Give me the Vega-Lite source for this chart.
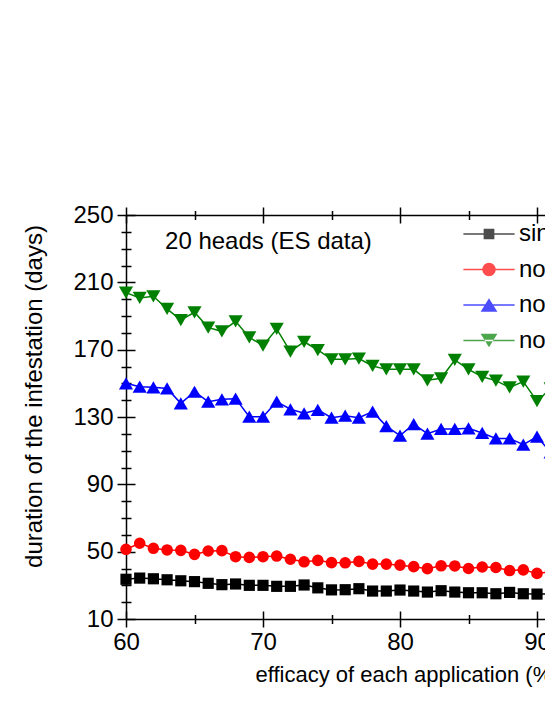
{
  "$schema": "https://vega.github.io/schema/vega-lite/v6.json",
  "usermeta": {"embedOptions": {"actions": false}},
  "autosize": "none",
  "padding": {"left": 126, "top": 215, "right": 0, "bottom": 86},
  "width": 548,
  "height": 404,
  "background": "white",
  "config": {
    "view": {"stroke": null},
    "font": "Liberation Sans",
    "axis": {
      "domainColor": "black", "domainWidth": 1.5,
      "tickColor": "black", "tickWidth": 1.5,
      "gridColor": "black", "gridWidth": 1.5, "gridOpacity": 1,
      "labelColor": "black", "labelFont": "Liberation Sans", "labelFontSize": 24,
      "titleColor": "black", "titleFont": "Liberation Sans", "titleFontSize": 22, "titleFontWeight": "normal",
      "labelFlush": false, "labelOverlap": false
    }
  },
  "data": {"values": [
    {"s":"single application","x":60,"y":33.6},{"s":"single application","x":61,"y":34.3},{"s":"single application","x":62,"y":33.9},{"s":"single application","x":63,"y":33.3},{"s":"single application","x":64,"y":32.7},{"s":"single application","x":65,"y":32.2},{"s":"single application","x":66,"y":31.2},{"s":"single application","x":67,"y":30.4},{"s":"single application","x":68,"y":30.8},{"s":"single application","x":69,"y":30.0},{"s":"single application","x":70,"y":30.0},{"s":"single application","x":71,"y":29.4},{"s":"single application","x":72,"y":29.4},{"s":"single application","x":73,"y":30.2},{"s":"single application","x":74,"y":28.5},{"s":"single application","x":75,"y":27.3},{"s":"single application","x":76,"y":27.4},{"s":"single application","x":77,"y":28.0},{"s":"single application","x":78,"y":26.6},{"s":"single application","x":79,"y":26.6},{"s":"single application","x":80,"y":27.2},{"s":"single application","x":81,"y":26.6},{"s":"single application","x":82,"y":26.0},{"s":"single application","x":83,"y":26.8},{"s":"single application","x":84,"y":26.0},{"s":"single application","x":85,"y":25.6},{"s":"single application","x":86,"y":25.6},{"s":"single application","x":87,"y":25.0},{"s":"single application","x":88,"y":25.8},{"s":"single application","x":89,"y":25.0},{"s":"single application","x":90,"y":24.8},{"s":"single application","x":91,"y":24.8},
    {"s":"no ovicidal effect","x":60,"y":51.4},{"s":"no ovicidal effect","x":61,"y":55.0},{"s":"no ovicidal effect","x":62,"y":52.0},{"s":"no ovicidal effect","x":63,"y":51.0},{"s":"no ovicidal effect","x":64,"y":50.8},{"s":"no ovicidal effect","x":65,"y":48.4},{"s":"no ovicidal effect","x":66,"y":50.4},{"s":"no ovicidal effect","x":67,"y":50.6},{"s":"no ovicidal effect","x":68,"y":47.0},{"s":"no ovicidal effect","x":69,"y":46.6},{"s":"no ovicidal effect","x":70,"y":47.0},{"s":"no ovicidal effect","x":71,"y":47.4},{"s":"no ovicidal effect","x":72,"y":45.5},{"s":"no ovicidal effect","x":73,"y":44.0},{"s":"no ovicidal effect","x":74,"y":44.8},{"s":"no ovicidal effect","x":75,"y":43.5},{"s":"no ovicidal effect","x":76,"y":43.4},{"s":"no ovicidal effect","x":77,"y":44.2},{"s":"no ovicidal effect","x":78,"y":42.6},{"s":"no ovicidal effect","x":79,"y":42.6},{"s":"no ovicidal effect","x":80,"y":42.0},{"s":"no ovicidal effect","x":81,"y":41.1},{"s":"no ovicidal effect","x":82,"y":39.9},{"s":"no ovicidal effect","x":83,"y":41.6},{"s":"no ovicidal effect","x":84,"y":41.5},{"s":"no ovicidal effect","x":85,"y":40.0},{"s":"no ovicidal effect","x":86,"y":40.9},{"s":"no ovicidal effect","x":87,"y":40.6},{"s":"no ovicidal effect","x":88,"y":38.8},{"s":"no ovicidal effect","x":89,"y":39.2},{"s":"no ovicidal effect","x":90,"y":37.1},{"s":"no ovicidal effect","x":91,"y":38.0},
    {"s":"no resistance","x":60,"y":150.0},{"s":"no resistance","x":61,"y":148.0},{"s":"no resistance","x":62,"y":147.6},{"s":"no resistance","x":63,"y":147.0},{"s":"no resistance","x":64,"y":138.1},{"s":"no resistance","x":65,"y":145.0},{"s":"no resistance","x":66,"y":139.1},{"s":"no resistance","x":67,"y":140.5},{"s":"no resistance","x":68,"y":140.9},{"s":"no resistance","x":69,"y":130.2},{"s":"no resistance","x":70,"y":130.2},{"s":"no resistance","x":71,"y":139.1},{"s":"no resistance","x":72,"y":134.6},{"s":"no resistance","x":73,"y":132.2},{"s":"no resistance","x":74,"y":134.3},{"s":"no resistance","x":75,"y":129.6},{"s":"no resistance","x":76,"y":130.8},{"s":"no resistance","x":77,"y":129.6},{"s":"no resistance","x":78,"y":133.2},{"s":"no resistance","x":79,"y":124.6},{"s":"no resistance","x":80,"y":119.0},{"s":"no resistance","x":81,"y":125.8},{"s":"no resistance","x":82,"y":120.1},{"s":"no resistance","x":83,"y":122.9},{"s":"no resistance","x":84,"y":122.9},{"s":"no resistance","x":85,"y":123.3},{"s":"no resistance","x":86,"y":120.5},{"s":"no resistance","x":87,"y":117.3},{"s":"no resistance","x":88,"y":117.3},{"s":"no resistance","x":89,"y":113.6},{"s":"no resistance","x":90,"y":118.3},{"s":"no resistance","x":91,"y":109.0},
    {"s":"no reinfestation","x":60,"y":203.9},{"s":"no reinfestation","x":61,"y":200.7},{"s":"no reinfestation","x":62,"y":201.7},{"s":"no reinfestation","x":63,"y":194.2},{"s":"no reinfestation","x":64,"y":187.6},{"s":"no reinfestation","x":65,"y":192.2},{"s":"no reinfestation","x":66,"y":183.1},{"s":"no reinfestation","x":67,"y":180.9},{"s":"no reinfestation","x":68,"y":186.8},{"s":"no reinfestation","x":69,"y":177.3},{"s":"no reinfestation","x":70,"y":172.4},{"s":"no reinfestation","x":71,"y":182.3},{"s":"no reinfestation","x":72,"y":168.8},{"s":"no reinfestation","x":73,"y":174.7},{"s":"no reinfestation","x":74,"y":169.8},{"s":"no reinfestation","x":75,"y":164.3},{"s":"no reinfestation","x":76,"y":164.3},{"s":"no reinfestation","x":77,"y":164.7},{"s":"no reinfestation","x":78,"y":160.3},{"s":"no reinfestation","x":79,"y":158.3},{"s":"no reinfestation","x":80,"y":158.3},{"s":"no reinfestation","x":81,"y":158.3},{"s":"no reinfestation","x":82,"y":151.8},{"s":"no reinfestation","x":83,"y":153.0},{"s":"no reinfestation","x":84,"y":163.9},{"s":"no reinfestation","x":85,"y":158.3},{"s":"no reinfestation","x":86,"y":153.9},{"s":"no reinfestation","x":87,"y":151.6},{"s":"no reinfestation","x":88,"y":147.6},{"s":"no reinfestation","x":89,"y":151.0},{"s":"no reinfestation","x":90,"y":139.4},{"s":"no reinfestation","x":91,"y":147.0}
  ]},
  "layer": [
    {
      "mark": {"type": "line", "strokeWidth": 1.5},
      "encoding": {
        "x": {"field": "x", "type": "quantitative", "scale": {"domain": [60, 100], "nice": false, "zero": false},
          "axis": {
            "orient": "bottom",
            "values": [60, 65, 70, 75, 80, 85, 90, 95, 100],
            "labelExpr": "datum.value % 10 === 0 ? datum.label : ''",
            "tickSize": {"condition": {"test": "datum.value % 10 === 0", "value": 8}, "value": 4.5},
            "grid": true,
            "gridDash": {"condition": {"test": "datum.value % 10 === 0", "value": [8, 2000]}, "value": [4.5, 2000]},
            "labelPadding": 3,
            "title": "efficacy of each application (%)",
            "titlePadding": 10,
            "titleX": 281
          }},
        "y": {"field": "y", "type": "quantitative", "scale": {"domain": [10, 250], "nice": false, "zero": false},
          "axis": {
            "orient": "left",
            "values": [10,20,30,40,50,60,70,80,90,100,110,120,130,140,150,160,170,180,190,200,210,220,230,240,250],
            "labelExpr": "(datum.value - 10) % 40 === 0 ? datum.label : ''",
            "tickSize": {"condition": {"test": "(datum.value - 10) % 40 === 0", "value": 9}, "value": 5},
            "grid": true,
            "gridDash": {"condition": {"test": "(datum.value - 10) % 40 === 0", "value": [9, 2000]}, "value": [5, 2000]},
            "labelPadding": 4,
            "title": "duration of the infestation (days)",
            "titleFontSize": 24,
            "titlePadding": 26,
            "titleY": 181
          }},
        "color": {"field": "s", "type": "nominal",
          "scale": {"domain": ["single application", "no ovicidal effect", "no resistance", "no reinfestation"], "range": ["#000000", "#FF0000", "#0000FF", "#008000"]},
          "legend": null}
      }
    },
    {
      "transform": [{"filter": "datum.s === 'single application'"}],
      "mark": {"type": "point", "filled": true, "opacity": 1, "shape": "square", "size": 125, "color": "#000000"},
      "encoding": {
        "x": {"field": "x", "type": "quantitative",
          "axis": {
            "orient": "top",
            "values": [60, 65, 70, 75, 80, 85, 90, 95, 100],
            "labels": false,
            "tickSize": {"condition": {"test": "datum.value % 10 === 0", "value": 8}, "value": 4.5},
            "grid": true,
            "gridDash": {"condition": {"test": "datum.value % 10 === 0", "value": [8, 2000]}, "value": [4.5, 2000]},
            "title": null
          }},
        "y": {"field": "y", "type": "quantitative", "axis": null}
      }
    },
    {
      "transform": [{"filter": "datum.s === 'no ovicidal effect'"}],
      "mark": {"type": "point", "filled": true, "opacity": 1, "shape": "circle", "size": 135, "color": "#FF0000"},
      "encoding": {
        "x": {"field": "x", "type": "quantitative", "axis": null},
        "y": {"field": "y", "type": "quantitative", "axis": null}
      }
    },
    {
      "transform": [{"filter": "datum.s === 'no resistance'"}],
      "mark": {"type": "point", "filled": true, "opacity": 1, "shape": "triangle-up", "size": 200, "color": "#0000FF"},
      "encoding": {
        "x": {"field": "x", "type": "quantitative", "axis": null},
        "y": {"field": "y", "type": "quantitative", "axis": null}
      }
    },
    {
      "transform": [{"filter": "datum.s === 'no reinfestation'"}],
      "mark": {"type": "point", "filled": true, "opacity": 1, "shape": "triangle-down", "size": 200, "color": "#008000"},
      "encoding": {
        "x": {"field": "x", "type": "quantitative", "axis": null},
        "y": {"field": "y", "type": "quantitative", "axis": null}
      }
    },
    {
      "mark": {"type": "point", "filled": true, "size": 0},
      "encoding": {
        "x": {"field": "x", "type": "quantitative", "axis": null},
        "y": {"field": "y", "type": "quantitative", "axis": null},
        "color": {"field": "s", "type": "nominal",
          "scale": {"domain": ["single application", "no ovicidal effect", "no resistance", "no reinfestation"], "range": ["#000000", "#FF0000", "#0000FF", "#008000"]},
          "legend": {"orient": "none", "legendX": 351, "legendY": 7, "title": null, "symbolSize": 256, "labelFontSize": 24, "labelFont": "Liberation Sans", "labelColor": "black", "labelOffset": 18, "rowPadding": 11.5, "padding": 0}},
        "shape": {"field": "s", "type": "nominal",
          "scale": {"domain": ["single application", "no ovicidal effect", "no resistance", "no reinfestation"],
            "range": [
              "M-3.2,-0.09L3.2,-0.09L3.2,0.09L-3.2,0.09ZM-0.67,-0.67L0.67,-0.67L0.67,0.67L-0.67,0.67Z",
              "M-3.2,-0.09L3.2,-0.09L3.2,0.09L-3.2,0.09ZM0.85,0L0.785,0.325L0.601,0.601L0.325,0.785L0,0.85L-0.325,0.785L-0.601,0.601L-0.785,0.325L-0.85,0L-0.785,-0.325L-0.601,-0.601L-0.325,-0.785L0,-0.85L0.325,-0.785L0.601,-0.601L0.785,-0.325Z",
              "M-3.2,-0.09L3.2,-0.09L3.2,0.09L-3.2,0.09ZM0,-0.85L1.05,0.85L-1.05,0.85Z",
              "M-3.2,-0.09L3.2,-0.09L3.2,0.09L-3.2,0.09ZM0,0.85L1.05,-0.85L-1.05,-0.85Z"
            ]},
          "legend": {"orient": "none", "legendX": 351, "legendY": 7, "title": null, "symbolSize": 256, "labelFontSize": 24, "labelFont": "Liberation Sans", "labelColor": "black", "labelOffset": 18, "rowPadding": 11.5, "padding": 0}}
      }
    },
    {
      "data": {"values": [{"x": 62.85, "y": 234, "t": "20 heads (ES data)"}]},
      "mark": {"type": "text", "align": "left", "baseline": "middle", "fontSize": 24, "font": "Liberation Sans", "color": "black"},
      "encoding": {
        "x": {"field": "x", "type": "quantitative", "axis": null},
        "y": {"field": "y", "type": "quantitative", "axis": null},
        "text": {"field": "t"}
      }
    }
  ],
  "resolve": {
    "axis": {"x": "independent", "y": "independent"},
    "scale": {"color": "independent", "shape": "independent"},
    "legend": {"color": "independent", "shape": "independent"}
  }
}
